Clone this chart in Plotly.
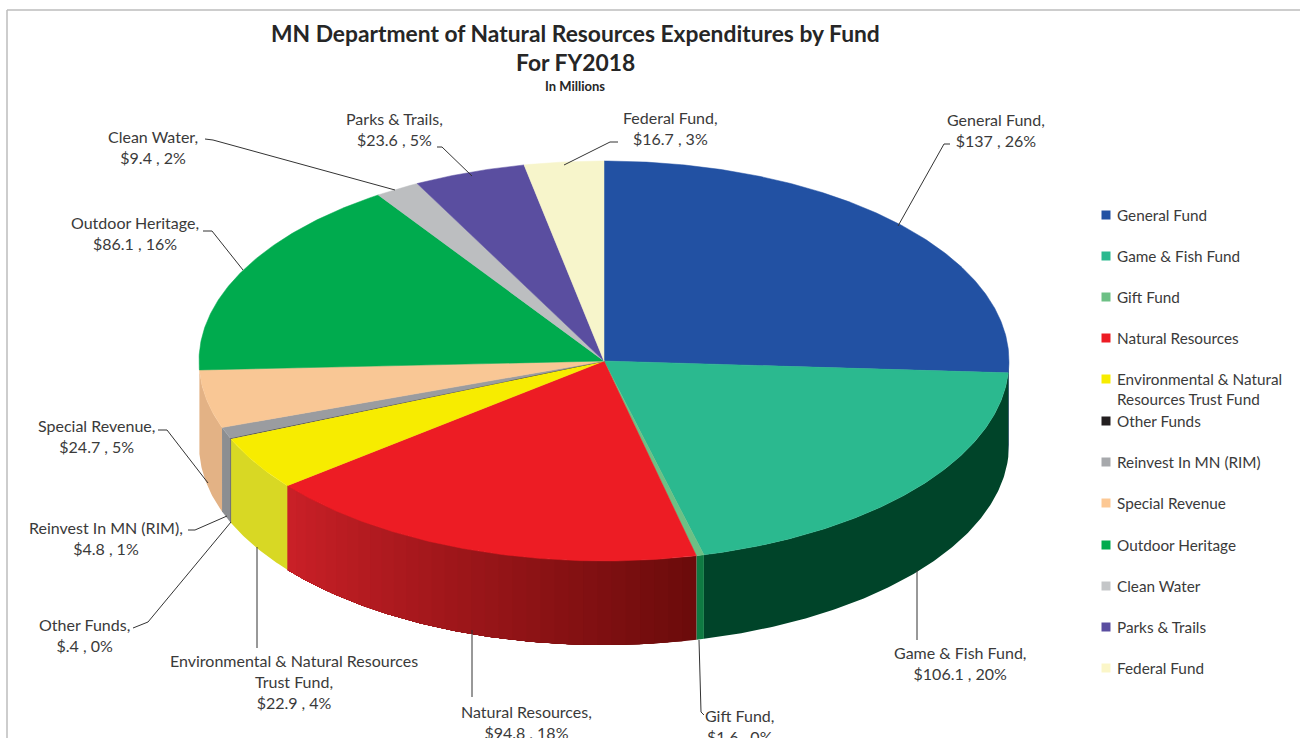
import math
import plotly.graph_objects as go

# ---------- data ----------
categories = ["General Fund", "Game & Fish Fund", "Gift Fund", "Natural Resources",
              "Environmental & Natural Resources Trust Fund", "Other Funds",
              "Reinvest In MN (RIM)", "Special Revenue", "Outdoor Heritage",
              "Clean Water", "Parks & Trails", "Federal Fund"]
values = [137, 106.1, 1.6, 94.8, 22.9, 0.4, 4.8, 24.7, 86.1, 9.4, 23.6, 16.7]
value_labels = ["$137", "$106.1", "$1.6", "$94.8", "$22.9", "$.4", "$4.8", "$24.7", "$86.1", "$9.4", "$23.6", "$16.7"]
percent_labels = ["26%", "20%", "0%", "18%", "4%", "0%", "1%", "5%", "16%", "2%", "5%", "3%"]
legend_labels = ["General Fund", "Game & Fish Fund", "Gift Fund", "Natural Resources",
                 "Environmental & Natural<br>Resources Trust Fund", "Other Funds",
                 "Reinvest In MN (RIM)", "Special Revenue", "Outdoor Heritage",
                 "Clean Water", "Parks & Trails", "Federal Fund"]
slice_label_names = ["General Fund,", "Game & Fish Fund,", "Gift Fund,", "Natural Resources,",
                     "Environmental & Natural Resources<br>Trust Fund,", "Other Funds,",
                     "Reinvest In MN (RIM),", "Special Revenue,", "Outdoor Heritage,",
                     "Clean Water,", "Parks & Trails,", "Federal Fund,"]

# ---------- styles ----------
top_colors = ["#2251a3", "#2bb98f", "#6dc085", "#ed1c24", "#f7ec00", "#231f20",
              "#9a9ca0", "#f9c795", "#00ab4e", "#bcbec0", "#5a4ea0", "#f7f5cb"]
legend_colors = ["#2251a3", "#2bb98f", "#6dc085", "#ed1c24", "#f7ec00", "#231f20",
                 "#a7a9ac", "#fcc894", "#00ab4e", "#c4c6c8", "#5a4ea0", "#fbf6c8"]
wall_start = {0: "#12305f", 1: "#004429", 2: "#0f7a42", 3: "#6a0b0b", 4: "#d8d824",
              5: "#231f20", 6: "#8c8e91", 7: "#e3b285"}
wall_end = {0: "#12305f", 1: "#004429", 2: "#0f7a42", 3: "#cb2027", 4: "#d8d824",
            5: "#231f20", 6: "#8c8e91", 7: "#e3b285"}

CX, CY, RX, RY, DEPTH = 604, 361, 405, 200, 84
TEXT = "#3a3a3a"
FONT = "Lato"


def pt(deg, dy=0):
    a = math.radians(deg)
    return CX + RX * math.sin(a), CY - RY * math.cos(a) + dy


def hex_mix(c1, c2, t):
    a = [int(c1[i:i + 2], 16) for i in (1, 3, 5)]
    b = [int(c2[i:i + 2], 16) for i in (1, 3, 5)]
    return "rgb(%d,%d,%d)" % tuple(round(a[i] + (b[i] - a[i]) * t) for i in range(3))


total = sum(values)
spans = []
cum = 0.0
for v in values:
    spans.append((cum / total * 360, (cum + v) / total * 360))
    cum += v

fig = go.Figure()

# side walls (front half of the disc only); each shading band runs to the far end
# of its slice so that the next band paints over it and no seams appear
for i, (a0, a1) in enumerate(spans):
    lo, hi = max(a0, 90), min(a1, 270)
    if hi <= lo or i not in wall_start:
        continue
    n = max(1, int((hi - lo) / 2)) if wall_start[i] != wall_end[i] else 1
    for k in range(n):
        b0 = lo + (hi - lo) * k / n
        steps = max(2, int((hi - b0) * 2) + 1)
        arc = [b0 + (hi - b0) * s / (steps - 1) for s in range(steps)]
        pts = [pt(a) for a in arc] + [pt(a, DEPTH) for a in reversed(arc)]
        color = hex_mix(wall_start[i], wall_end[i], (k + 0.5) / n)
        fig.add_trace(go.Scatter(x=[p[0] for p in pts], y=[p[1] for p in pts], mode="lines",
                                 fill="toself", fillcolor=color, line=dict(width=0),
                                 hoverinfo="skip", name=categories[i] + " side", showlegend=False))

# top faces
for i, (a0, a1) in enumerate(spans):
    steps = max(3, int((a1 - a0) * 2) + 1)
    arc = [a0 + (a1 - a0) * s / (steps - 1) for s in range(steps)]
    pts = [(CX, CY)] + [pt(a) for a in arc] + [(CX, CY)]
    fig.add_trace(go.Scatter(x=[p[0] for p in pts], y=[p[1] for p in pts], mode="lines",
                             fill="toself", fillcolor=top_colors[i],
                             line=dict(color=top_colors[i], width=0.5),
                             name=categories[i], showlegend=False,
                             text=f"{categories[i]}: {value_labels[i]}", hoverinfo="text"))

# legend drawn in the reference's uneven rhythm
legend_y = [215, 256, 297, 338, 379, 421, 462, 503, 545, 586, 627, 668]
annotations = []
for i, name in enumerate(legend_labels):
    fig.add_trace(go.Scatter(x=[1106], y=[legend_y[i]], mode="markers",
                             marker=dict(symbol="square", size=9, color=legend_colors[i]),
                             name=categories[i] + " key", showlegend=False, hoverinfo="skip"))
    annotations.append(dict(x=1115, y=legend_y[i] - 11, xref="x", yref="y", text=name, showarrow=False,
                            xanchor="left", yanchor="top", align="left",
                            font=dict(family=FONT, size=15.3, color=TEXT)))

# slice labels: centre x, first line y
label_pos = [(996, 120), (960, 653), (739, 716), (526, 712), (294, 661), (84, 625),
             (106, 528), (96, 426), (135, 223), (153, 137), (394, 119), (670, 118)]
for i, (lx, ly) in enumerate(label_pos):
    annotations.append(dict(x=lx, y=ly - 12, xref="x", yref="y",
                            text=f"{slice_label_names[i]}<br>{value_labels[i]} , {percent_labels[i]}",
                            showarrow=False, xanchor="center", yanchor="top", align="center",
                            font=dict(family=FONT, size=16, color=TEXT)))

# leader lines
leaders = [
    [(950, 144), (944, 144), (898, 226)],
    [(917, 570), (917, 640)],
    [(699, 640), (701, 712), (704, 715)],
    [(472, 630), (472, 697)],
    [(257, 547), (257, 648)],
    [(231, 522), (148, 622), (133, 628)],
    [(227, 516), (195, 530), (188, 530)],
    [(208, 483), (167, 430), (158, 430)],
    [(243, 270), (212, 231), (203, 231)],
    [(395, 190), (213, 140), (205, 139)],
    [(472, 176), (442, 147), (437, 147)],
    [(564, 165), (610, 142), (618, 142)],
]
for i, seg in enumerate(leaders):
    fig.add_trace(go.Scatter(x=[p[0] for p in seg], y=[p[1] for p in seg], mode="lines",
                             line=dict(color="#333333", width=1), hoverinfo="skip",
                             name=categories[i] + " leader", showlegend=False))

# titles
annotations += [
    dict(x=575, y=33, xref="x", yref="y", text="<b>MN Department of Natural Resources Expenditures by Fund</b>",
         showarrow=False, xanchor="center", yanchor="middle", font=dict(family=FONT, size=22.8, color="#262626")),
    dict(x=575, y=62, xref="x", yref="y", text="<b>For FY2018</b>",
         showarrow=False, xanchor="center", yanchor="middle", font=dict(family=FONT, size=22.8, color="#262626")),
    dict(x=575, y=86, xref="x", yref="y", text="<b>In Millions</b>",
         showarrow=False, xanchor="center", yanchor="middle", font=dict(family=FONT, size=13, color="#262626")),
]

shapes = [
    dict(type="line", xref="x", yref="y", x0=7, y0=10, x1=1300, y1=10, line=dict(color="#bdbdbd", width=1.5)),
    dict(type="line", xref="x", yref="y", x0=7, y0=10, x1=7, y1=738, line=dict(color="#bdbdbd", width=1.5)),
]

fig.update_layout(
    width=1300, height=738, margin=dict(l=0, r=0, t=0, b=0),
    paper_bgcolor="white", plot_bgcolor="white", showlegend=False,
    xaxis=dict(range=[0, 1300], visible=False, fixedrange=True),
    yaxis=dict(range=[738, 0], visible=False, fixedrange=True),
    annotations=annotations, shapes=shapes,
)
fig.write_html("out.html", post_script="document.body.style.margin='0';document.body.style.overflow='hidden';",
               config={"displayModeBar": False})
